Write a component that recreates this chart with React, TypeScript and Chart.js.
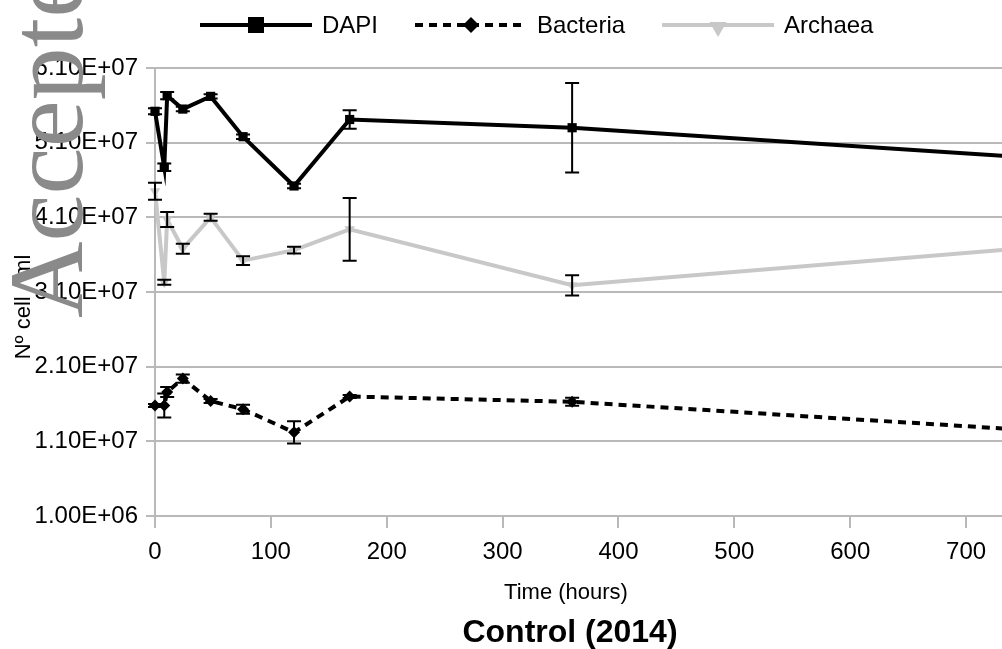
import React, { useEffect, useRef } from 'react';
import { Chart, registerables } from 'chart.js';

Chart.register(...registerables);

// ---- data ----
const hours = [0, 8, 10.5, 24, 48, 76, 120, 168, 360, 744];
const dapi = [5.52e7, 4.77e7, 5.73e7, 5.55e7, 5.72e7, 5.18e7, 4.52e7, 5.41e7, 5.3e7, 4.91e7];
const dapiErr = [4e5, 5e5, 5e5, 3e5, 3e5, 3e5, 3e5, 1.25e6, 6.0e6, 0];
const bacteria = [1.58e7, 1.58e7, 1.76e7, 1.94e7, 1.64e7, 1.53e7, 1.22e7, 1.7e7, 1.63e7, 1.26e7];
const bacteriaErr = [2e5, 1.6e6, 6.7e5, 5.6e5, 2.7e5, 6e5, 1.5e6, 2e5, 5.4e5, 0];
const archaea = [4.45e7, 3.23e7, 4.07e7, 3.68e7, 4.1e7, 3.52e7, 3.66e7, 3.94e7, 3.19e7, 3.68e7];
const archaeaErr = [1.14e6, 3.4e5, 1.0e6, 6.7e5, 4.7e5, 6e5, 4.5e5, 4.2e6, 1.36e6, 0];

const seriesLabels = ['DAPI', 'Bacteria', 'Archaea'];
const yTickLabels = ['1.00E+06', '1.10E+07', '2.10E+07', '3.10E+07', '4.10E+07', '5.10E+07', '6.10E+07'];
const xTickLabels = ['0', '100', '200', '300', '400', '500', '600', '700'];
const xTitle = 'Time (hours)';
const yTitle = 'Nº cell / ml';
const chartTitle = 'Control (2014)';
const watermark = 'Accepted';

const SANS = "'Liberation Sans', Arial, sans-serif";
const SERIF = "'Liberation Serif', 'Times New Roman', serif";
const GRID = '#b9b9b9';
const GREY_LINE = '#c8c8c8';

function drawMarker(ctx: CanvasRenderingContext2D, style: string, x: number, y: number, r: number, color: string) {
  ctx.save();
  ctx.fillStyle = color;
  ctx.beginPath();
  if (style === 'rect') {
    ctx.rect(x - r, y - r, 2 * r, 2 * r);
  } else if (style === 'rectRot') {
    ctx.moveTo(x, y - r);
    ctx.lineTo(x + r, y);
    ctx.lineTo(x, y + r);
    ctx.lineTo(x - r, y);
    ctx.closePath();
  } else {
    // downward triangle
    const h = r * 1.5;
    const w = r * Math.sqrt(3) / 2;
    ctx.moveTo(x - w, y - h / 3);
    ctx.lineTo(x + w, y - h / 3);
    ctx.lineTo(x, y + (2 * h) / 3);
    ctx.closePath();
  }
  ctx.fill();
  ctx.restore();
}

export default function App() {
  const ref = useRef<HTMLCanvasElement | null>(null);

  useEffect(() => {
    document.body.style.margin = '0';
    const canvas = ref.current;
    if (!canvas) return;
    const errs = [dapiErr, bacteriaErr, archaeaErr];

    const errorBars = {
      id: 'errorBars',
      afterDatasetsDraw(chart: any) {
        const { ctx } = chart;
        const xs = chart.scales.x;
        const ys = chart.scales.y;
        ctx.save();
        ctx.strokeStyle = '#000';
        ctx.lineWidth = 2;
        chart.data.datasets.forEach((ds: any, di: number) => {
          const e = errs[di];
          ds.data.forEach((pt: any, i: number) => {
            if (!e[i] || pt.x > xs.max) return;
            const px = xs.getPixelForValue(pt.x);
            const yTop = ys.getPixelForValue(pt.y + e[i]);
            const yBot = ys.getPixelForValue(pt.y - e[i]);
            ctx.beginPath();
            ctx.moveTo(px, yTop);
            ctx.lineTo(px, yBot);
            ctx.moveTo(px - 7, yTop);
            ctx.lineTo(px + 7, yTop);
            ctx.moveTo(px - 7, yBot);
            ctx.lineTo(px + 7, yBot);
            ctx.stroke();
          });
        });
        ctx.restore();
      },
    };

    const decor = {
      id: 'decor',
      afterDraw(chart: any) {
        const { ctx } = chart;
        ctx.save();
        // legend
        const legendMarkers = [
          { style: 'rect', r: 8, dy: 0 },
          { style: 'rectRot', r: 8, dy: 0 },
          { style: 'triangle', r: 10, dy: 2 },
        ];
        let lx = 200;
        const ly = 25;
        ctx.font = `24px ${SANS}`;
        ctx.textBaseline = 'middle';
        ctx.textAlign = 'left';
        chart.data.datasets.forEach((ds: any, i: number) => {
          ctx.save();
          ctx.strokeStyle = ds.borderColor;
          ctx.lineWidth = ds.borderWidth;
          ctx.setLineDash(ds.borderDash || []);
          ctx.beginPath();
          ctx.moveTo(lx, ly);
          ctx.lineTo(lx + 112, ly);
          ctx.stroke();
          ctx.restore();
          const m = legendMarkers[i];
          drawMarker(ctx, m.style, lx + 56, ly + m.dy, m.r, ds.pointBackgroundColor);
          ctx.fillStyle = '#000';
          ctx.fillText(ds.label, lx + 122, ly + 1);
          lx += 122 + ctx.measureText(ds.label).width + 37;
        });

        // axis titles and chart title
        ctx.fillStyle = '#000';
        ctx.textBaseline = 'alphabetic';
        ctx.textAlign = 'center';
        ctx.font = `22px ${SANS}`;
        ctx.fillText(xTitle, 566, 599);
        ctx.save();
        ctx.translate(30, 307);
        ctx.rotate(-Math.PI / 2);
        ctx.fillText(yTitle, 0, 0);
        ctx.restore();
        ctx.font = `bold 32px ${SANS}`;
        ctx.fillText(chartTitle, 570, 642);

        // watermark
        ctx.save();
        ctx.fillStyle = '#8a8a8a';
        ctx.font = `106px ${SERIF}`;
        ctx.textAlign = 'left';
        ctx.translate(82, 318);
        ctx.rotate(-Math.PI / 2);
        ctx.fillText(watermark, 0, 0);
        ctx.restore();
        ctx.restore();
      },
    };

    const toPts = (vals: number[]) => vals.map((v, i) => ({ x: hours[i], y: v }));

    const chart = new Chart(canvas, {
      type: 'line',
      data: {
        datasets: [
          {
            label: seriesLabels[0],
            data: toPts(dapi),
            borderColor: '#000',
            backgroundColor: '#000',
            pointBackgroundColor: '#000',
            pointBorderColor: '#000',
            borderWidth: 4,
            pointStyle: 'rect',
            pointRadius: 6.5,
            pointBorderWidth: 0,
            tension: 0,
            clip: false,
          },
          {
            label: seriesLabels[1],
            data: toPts(bacteria),
            borderColor: '#000',
            backgroundColor: '#000',
            pointBackgroundColor: '#000',
            pointBorderColor: '#000',
            borderWidth: 4,
            borderDash: [8, 6],
            pointStyle: 'rectRot',
            pointRadius: 6,
            pointBorderWidth: 0,
            tension: 0,
            clip: false,
          },
          {
            label: seriesLabels[2],
            data: toPts(archaea),
            borderColor: GREY_LINE,
            backgroundColor: GREY_LINE,
            pointBackgroundColor: GREY_LINE,
            pointBorderColor: GREY_LINE,
            borderWidth: 4,
            pointStyle: 'triangle',
            pointRotation: 180,
            pointRadius: 6,
            pointBorderWidth: 0,
            tension: 0,
            clip: false,
          },
        ],
      },
      options: {
        animation: false,
        responsive: false,
        maintainAspectRatio: false,
        devicePixelRatio: 1,
        layout: { autoPadding: false, padding: { top: 68, left: 0, right: 0, bottom: 0 } },
        plugins: {
          legend: { display: false },
          title: { display: false },
          tooltip: { enabled: false },
        },
        scales: {
          x: {
            type: 'linear',
            min: 0,
            max: 731,
            ticks: {
              stepSize: 100,
              includeBounds: false,
              autoSkip: false,
              maxRotation: 0,
              color: '#000',
              padding: 10,
              font: { size: 24, family: SANS },
              callback: (_v: any, i: number) => xTickLabels[i],
            },
            grid: { drawOnChartArea: false, drawTicks: true, tickLength: 12, color: GRID, lineWidth: 2 },
            border: { display: false },
            afterFit: (s: any) => {
              s.height = 133;
            },
          },
          y: {
            type: 'linear',
            min: 1e6,
            max: 6.1e7,
            ticks: {
              stepSize: 1e7,
              color: '#000',
              padding: 8,
              font: { size: 24, family: SANS },
              callback: (_v: any, i: number) => yTickLabels[i],
            },
            grid: { color: GRID, lineWidth: 2, tickLength: 9, drawTicks: true },
            border: { display: true, color: GRID, width: 2 },
            afterFit: (s: any) => {
              s.width = 155;
            },
          },
        },
      },
      plugins: [errorBars, decor],
    } as any);

    return () => chart.destroy();
  }, []);

  return (
    <div style={{ position: 'absolute', left: 0, top: 0, width: 1002, height: 649, background: '#fff' }}>
      <canvas ref={ref} width={1002} height={649} />
    </div>
  );
}
